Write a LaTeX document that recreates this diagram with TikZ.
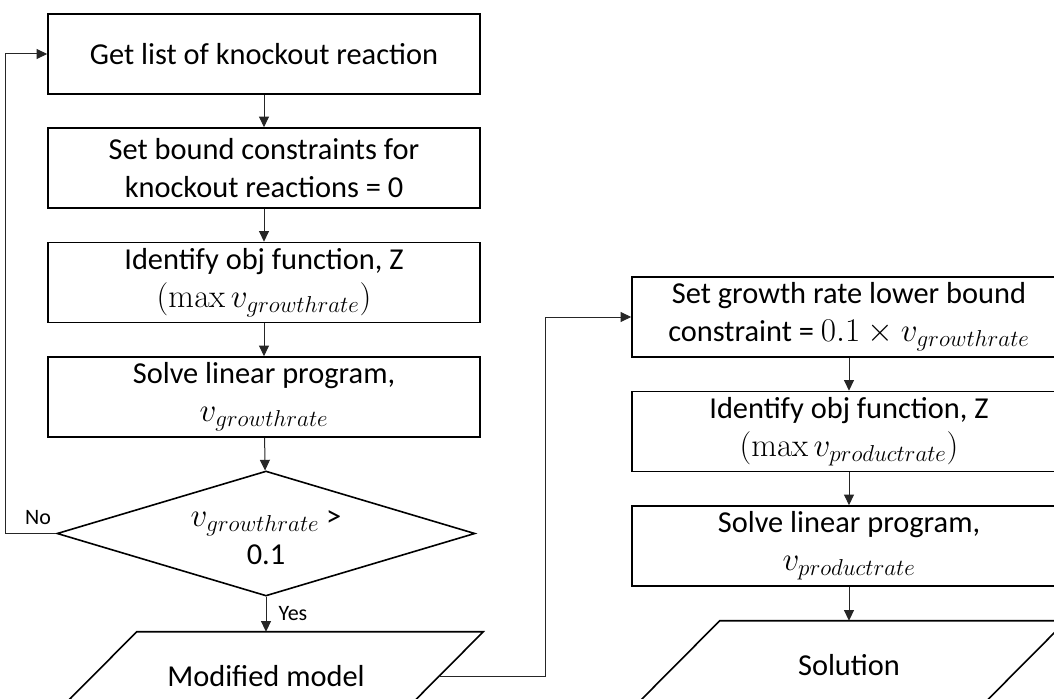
\documentclass[tikz,border=0pt]{standalone}
\usepackage[no-math]{fontspec}
\setmainfont{Carlito}
\DeclareMathSizes{22.8}{24}{19}{15}
\usetikzlibrary{shapes.geometric,arrows.meta}
\begin{document}
\begin{tikzpicture}[x=0.75pt,y=-0.75pt,
  every node/.style={font=\fontsize{22.8}{28.5}\selectfont},
  procbox/.style={draw=black,line width=1.2pt,rectangle,minimum width=324pt,minimum height=60pt,align=center,inner sep=2pt},
  rprocbox/.style={procbox,minimum width=325.5pt},
  decbox/.style={draw=black,line width=1.2pt,diamond,minimum width=313.5pt,minimum height=93.75pt,inner sep=0pt},
  declab/.style={align=center,inner sep=0pt,font=\fontsize{22.8}{28.5}\selectfont},
  iobox/.style={rectangle,minimum width=259.5pt,minimum height=66pt,inner sep=0pt},
  ioline/.style={draw=black,line width=1.2pt},
  conn/.style={draw=black!85,line width=0.75pt,-{Triangle[length=8pt,width=7.5pt]}},
  smalllab/.style={font=\fontsize{16.5}{20}\selectfont,inner sep=1pt}]
\useasboundingbox (0,0) rectangle (1054,699);
\clip (0,0) rectangle (1054,699);

\node[procbox] (b1) at (264,54) {Get list of knockout reaction};
\node[procbox] (b2) at (264,168) {Set bound constraints for\\knockout reactions = 0};
\node[procbox] (b3) at (264,282.5) {Identify obj function, Z\\$(\max v_{growthrate})$};
\node[procbox] (b4) at (264,397) {Solve linear program,\\$v_{growthrate}$};
\node[decbox,label={[declab,yshift=-3pt]center:{$v_{growthrate}$ >\\0.1}}] (d) at (266,533.5) {};
\node[iobox] (p1) at (266,676) {Modified model};
\draw[ioline] ([xshift=33pt]p1.north west) -- ([xshift=33pt]p1.north east)
  -- ([xshift=-33pt]p1.south east) -- ([xshift=-33pt]p1.south west) -- cycle;

\node[rprocbox] (r1) at (849,317) {Set growth rate lower bound\\constraint = $0.1\times v_{growthrate}$};
\node[rprocbox] (r2) at (849,431.5) {Identify obj function, Z\\$(\max v_{productrate})$};
\node[rprocbox] (r3) at (849,546) {Solve linear program,\\$v_{productrate}$};
\node[iobox] (p2) at (849,665) {Solution};
\draw[ioline] ([xshift=33pt]p2.north west) -- ([xshift=33pt]p2.north east)
  -- ([xshift=-33pt]p2.south east) -- ([xshift=-33pt]p2.south west) -- cycle;

\draw[conn] (b1) -- (b2);
\draw[conn] (b2) -- (b3);
\draw[conn] (b3) -- (b4);
\draw[conn] (b4) -- (d);
\draw[conn] (d) -- (p1.north -| d.south);
\node[smalllab,anchor=west] (yes) at (277,614) {Yes};
\draw[conn] (d.west) -- ++(-51,0) |- (b1.west);
\node[smalllab] (no) at (38,518) {No};
\draw[conn] (p1.east) -- ++(106,0) |- (r1.west);
\draw[conn] (r1) -- (r2);
\draw[conn] (r2) -- (r3);
\draw[conn] (r3) -- (r3.south |- p2.north);
\end{tikzpicture}
\end{document}
